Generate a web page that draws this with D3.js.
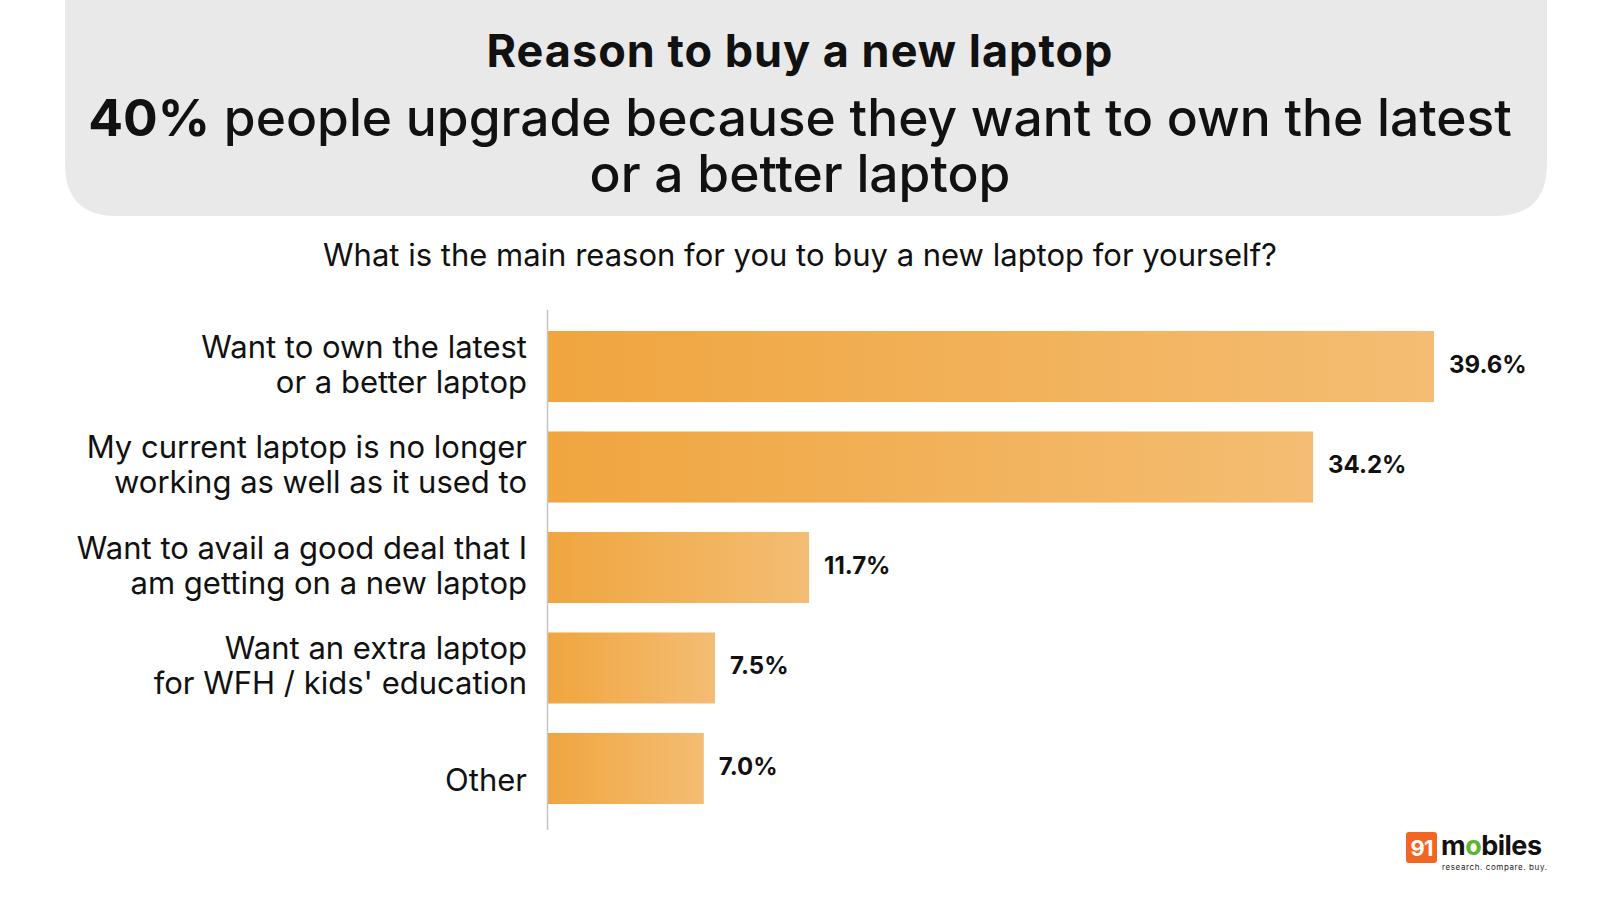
<!DOCTYPE html>
<html>
<head>
<meta charset="utf-8">
<script src="https://cdn.jsdelivr.net/npm/d3@7"></script>
<style>
  html, body { margin: 0; padding: 0; background: #fff; }
  svg { display: block; font-family: Inter, "Noto Sans", sans-serif; }
</style>
</head>
<body>
<svg id="chart" width="1600" height="900"></svg>
<script>
// Chart data
const categories = [
  ["Want to own the latest", "or a better laptop"],
  ["My current laptop is no longer", "working as well as it used to"],
  ["Want to avail a good deal that I", "am getting on a new laptop"],
  ["Want an extra laptop", "for WFH / kids' education"],
  ["Other"]
]
const values = [39.6, 34.2, 11.7, 7.5, 7.0]
const valueLabels = ["39.6%", "34.2%", "11.7%", "7.5%", "7.0%"]

const svg = d3.select("#chart")

// Header panel with rounded bottom corners
const hx0 = 65, hx1 = 1547, hy1 = 216, r = 52
svg.append("path")
  .attr("d", `M${hx0},-10 L${hx1},-10 L${hx1},${hy1 - r} Q${hx1},${hy1} ${hx1 - r},${hy1} L${hx0 + r},${hy1} Q${hx0},${hy1} ${hx0},${hy1 - r} Z`)
  .attr("fill", "#e9e9e9")

svg.append("text")
  .attr("x", 800).attr("y", 67)
  .attr("text-anchor", "middle")
  .attr("font-size", 45).attr("font-weight", 700)
  .attr("letter-spacing", 1)
  .attr("fill", "#111")
  .text("Reason to buy a new laptop")

const sub = svg.append("text")
  .attr("x", 800).attr("y", 136)
  .attr("text-anchor", "middle")
  .attr("font-size", 51.5).attr("font-weight", 500)
  .attr("fill", "#111")
sub.append("tspan").attr("font-weight", 700).text("40%")
sub.append("tspan").text(" people upgrade because they want to own the latest")

svg.append("text")
  .attr("x", 800).attr("y", 192)
  .attr("text-anchor", "middle")
  .attr("font-size", 51.5).attr("font-weight", 500)
  .attr("fill", "#111")
  .text("or a better laptop")

svg.append("text")
  .attr("x", 800).attr("y", 266)
  .attr("text-anchor", "middle")
  .attr("font-size", 31)
  .attr("fill", "#111")
  .text("What is the main reason for you to buy a new laptop for yourself?")

// Scales
const x = d3.scaleLinear().domain([0, 39.6]).range([547, 1434])
const y = d3.scaleBand().domain(d3.range(values.length)).range([331, 804]).paddingInner(0.293).paddingOuter(0)

const defs = svg.append("defs")
const grad = defs.append("linearGradient").attr("id", "barGrad")
  .attr("x1", "0%").attr("x2", "100%").attr("y1", "0%").attr("y2", "0%")
grad.append("stop").attr("offset", "0%").attr("stop-color", "#f0a53f")
grad.append("stop").attr("offset", "100%").attr("stop-color", "#f4bd73")

svg.append("g").selectAll("rect")
  .data(values)
  .join("rect")
  .attr("x", x(0))
  .attr("y", (d, i) => y(i))
  .attr("width", d => x(d) - x(0))
  .attr("height", y.bandwidth())
  .attr("fill", "url(#barGrad)")

// axis line
svg.append("line")
  .attr("x1", 547.5).attr("x2", 547.5)
  .attr("y1", 310).attr("y2", 830)
  .attr("stroke", "#c4c4c4").attr("stroke-width", 1.5)

// value labels
svg.append("g").selectAll("text")
  .data(values)
  .join("text")
  .attr("x", d => x(d) + 15)
  .attr("y", (d, i) => y(i) + y.bandwidth() / 2 - 2)
  .attr("dy", "0.35em")
  .attr("font-size", 24).attr("font-weight", 700)
  .attr("fill", "#111")
  .text((d, i) => valueLabels[i])

// category labels
const cat = svg.append("g").selectAll("text")
  .data(categories)
  .join("text")
  .attr("x", 527)
  .attr("y", (d, i) => y(i) + y.bandwidth() / 2 + (d.length > 1 ? -19.5 : 12))
  .attr("text-anchor", "end")
  .attr("font-size", 31)
  .attr("fill", "#111")
cat.selectAll("tspan")
  .data(d => d)
  .join("tspan")
  .attr("x", 527)
  .attr("dy", (d, i) => i === 0 ? "0.35em" : 35)
  .text(d => d)

// logo
const logo = svg.append("g").attr("transform", "translate(1406,832)")
logo.append("rect").attr("width", 31).attr("height", 31).attr("rx", 3).attr("fill", "#f26522")
logo.append("text").attr("x", 15.5).attr("y", 24).attr("text-anchor", "middle")
  .attr("font-size", 22).attr("font-weight", 700).attr("fill", "#fff")
  .attr("letter-spacing", -1).text("91")
const word = logo.append("text").attr("x", 35).attr("y", 23)
  .attr("font-size", 27).attr("font-weight", 700).attr("fill", "#111").attr("letter-spacing", -0.5)
word.append("tspan").text("m")
word.append("tspan").attr("fill", "#5cb531").text("o")
word.append("tspan").text("biles")
logo.append("text").attr("x", 36).attr("y", 38)
  .attr("font-size", 8).attr("fill", "#222").attr("letter-spacing", 0.6)
  .text("research. compare. buy.")
</script>
</body>
</html>
